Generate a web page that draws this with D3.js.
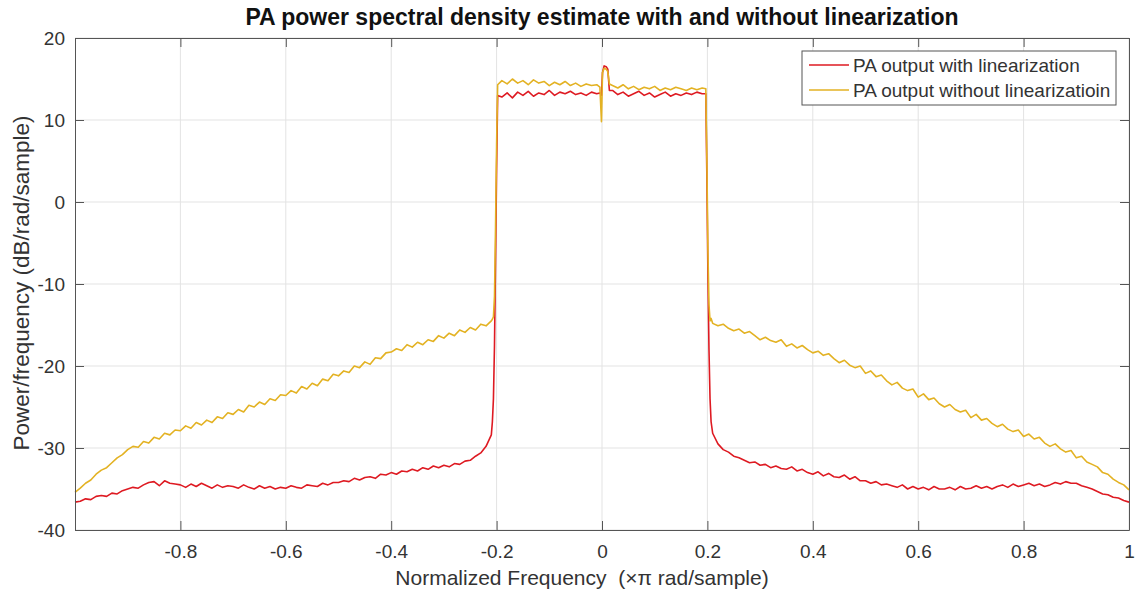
<!DOCTYPE html>
<html>
<head>
<meta charset="utf-8">
<script src="https://cdn.jsdelivr.net/npm/d3@7"></script>
<style>
	body { margin: 0; background: #fff; }
	text { font-family: "Liberation Sans", Arial, sans-serif; fill: #333; }
</style>
</head>
<body>
<div id="chart"></div>
<script>
// Axis ticks
var xTicks = [-0.8, -0.6, -0.4, -0.2, 0, 0.2, 0.4, 0.6, 0.8, 1];
var yTicks = [-40, -30, -20, -10, 0, 10, 20];
var seriesNames = ["PA output with linearization", "PA output without linearizatioin"];

// Sample positions (normalized frequency, x pi rad/sample)
var freqLeft = d3.range(80).map(function(i) { return +(-1 + i * 0.01).toFixed(2); });
var freqLeftEdge = [-0.208, -0.206, -0.204, -0.202, -0.200, -0.198];
var freqPassLeft = d3.range(19).map(function(i) { return +(-0.19 + i * 0.01).toFixed(2); });
var freqSpike = [-0.004, -0.001, 0.001, 0.004, 0.008, 0.011, 0.014];
var freqPassRight = d3.range(18).map(function(i) { return +(0.02 + i * 0.01).toFixed(2); });
var freqRightEdge = [0.197, 0.199, 0.201, 0.203, 0.205, 0.207];
var freqRight = d3.range(80).map(function(i) { return +(0.21 + i * 0.01).toFixed(2); });

// PA output without linearization (dB/rad/sample)
var noLinLeft = [-35.4,-34.9,-34.3,-33.9,-33.2,-32.7,-32.4,-31.8,-31.2,-30.8,
	-30.2,-29.8,-29.9,-29.2,-29.4,-28.7,-28.9,-28.2,-28.4,-27.8,
	-27.9,-27.3,-27.6,-26.9,-27.2,-26.6,-26.9,-26.2,-26.4,-25.7,
	-25.9,-25.3,-25.6,-24.8,-25.0,-24.4,-24.7,-24.0,-24.2,-23.5,
	-23.6,-23.0,-23.3,-22.5,-22.8,-22.1,-22.4,-21.6,-21.8,-21.0,
	-21.2,-20.6,-20.8,-20.0,-20.2,-19.5,-19.8,-19.0,-19.1,-18.4,
	-18.3,-17.9,-18.1,-17.4,-17.7,-17.1,-17.4,-16.8,-17.0,-16.3,
	-16.6,-16.0,-16.3,-15.6,-15.9,-15.3,-15.6,-14.9,-15.1,-14.5];
var noLinLeftEdge = [-14.3, -14.0, -11.5, -3, 7, 14.3];
var noLinPassLeft = [14.8,14.4,15.0,14.5,14.8,14.3,14.9,14.5,14.7,14.2,14.6,14.3,14.7,14.2,14.5,14.1,14.4,14.2,14.3];
var noLinSpike = [14.0, 9.8, 15.8, 16.3, 16.2, 15.9, 14.4];
var noLinPassRight = [14.2,13.9,14.3,13.8,14.1,13.7,14.0,13.8,14.1,13.6,13.9,13.7,14.0,13.8,13.6,13.9,13.7,13.9];
var noLinRightEdge = [13.8, 5, -6, -12.5, -14.5, -14.2];
var noLinRight = [-14.8,-15.1,-14.9,-15.4,-15.7,-15.5,-16.0,-15.8,-16.3,-16.8,
	-16.5,-16.9,-17.1,-16.8,-17.6,-17.3,-17.8,-17.5,-18.0,-18.4,
	-18.2,-18.7,-18.5,-19.1,-19.6,-19.3,-19.9,-20.2,-20.0,-20.9,
	-20.6,-21.3,-21.1,-21.8,-22.3,-22.0,-22.7,-23.0,-22.8,-23.8,
	-23.4,-24.1,-23.9,-24.6,-25.0,-24.7,-25.3,-25.6,-25.4,-26.3,
	-25.9,-26.6,-26.4,-27.0,-27.4,-27.1,-27.7,-28.0,-27.8,-28.6,
	-28.3,-28.9,-28.7,-29.4,-29.8,-29.5,-30.1,-30.5,-30.3,-31.2,
	-31.0,-31.7,-32.0,-32.3,-33.0,-33.2,-33.8,-34.2,-34.5,-35.1];

// PA output with linearization (dB/rad/sample)
var linLeft = [-36.6,-36.5,-36.2,-36.3,-35.9,-35.8,-35.9,-35.5,-35.6,-35.2,
	-35.0,-34.8,-34.9,-34.5,-34.2,-34.1,-34.6,-34.0,-34.3,-34.4,
	-34.5,-34.8,-34.4,-34.7,-34.3,-34.6,-34.9,-34.5,-34.8,-34.6,
	-34.7,-34.9,-34.5,-34.8,-35.0,-34.6,-34.9,-34.7,-35.0,-34.8,
	-34.9,-34.6,-34.8,-34.9,-34.5,-34.6,-34.7,-34.3,-34.5,-34.2,
	-34.2,-34.0,-34.1,-33.7,-33.9,-33.6,-33.5,-33.7,-33.2,-33.3,
	-33.0,-33.2,-32.8,-32.9,-32.6,-32.8,-32.4,-32.6,-32.2,-32.4,
	-32.1,-32.3,-31.9,-32.0,-31.6,-31.5,-31.0,-30.6,-29.8,-28.4];
var linLeftEdge = [-26.8, -24.0, -17.5, -7, 4, 13.0];
var linPassLeft = [12.8,13.3,12.7,13.4,13.0,13.5,12.9,13.3,13.1,13.6,13.0,13.4,13.2,13.5,13.1,13.3,13.0,13.4,13.2];
var linSpike = [13.3, 13.0, 15.8, 16.6, 16.5, 16.2, 13.6];
var linPassRight = [13.6,13.1,13.4,12.9,13.2,13.5,13.0,13.3,12.8,13.1,13.4,12.9,13.2,13.0,13.3,13.1,13.4,13.2];
var linRightEdge = [13.2, 3, -9, -18, -24, -26.8];
var linRight = [-28.2,-29.5,-30.2,-30.5,-31.0,-31.2,-31.5,-31.8,-31.7,-32.1,
	-32.0,-32.4,-32.2,-32.5,-32.6,-32.3,-32.8,-32.6,-33.0,-33.2,
	-32.9,-33.4,-33.1,-33.5,-33.6,-33.3,-33.8,-33.5,-34.0,-34.0,
	-34.3,-34.1,-34.5,-34.4,-34.6,-34.8,-34.5,-35.0,-34.7,-35.0,
	-34.8,-35.1,-34.7,-35.0,-35.0,-34.8,-35.1,-34.7,-35.0,-34.9,
	-34.6,-34.9,-34.7,-35.0,-34.7,-34.5,-34.8,-34.4,-34.7,-34.5,
	-34.3,-34.6,-34.4,-34.7,-34.5,-34.2,-34.4,-34.1,-34.3,-34.3,
	-34.6,-34.8,-35.0,-35.3,-35.6,-35.7,-36.0,-36.1,-36.4,-36.6];

var freq = [].concat(freqLeft, freqLeftEdge, freqPassLeft, freqSpike, freqPassRight, freqRightEdge, freqRight);
var noLin = [].concat(noLinLeft, noLinLeftEdge, noLinPassLeft, noLinSpike, noLinPassRight, noLinRightEdge, noLinRight);
var withLin = [].concat(linLeft, linLeftEdge, linPassLeft, linSpike, linPassRight, linRightEdge, linRight);

var colors = ["#de1a22", "#e3b223"];

// Layout
var W = 1139, H = 596;
var margin = {top: 38, right: 10, bottom: 66, left: 75};
var width = 1129 - margin.left;
var height = 530 - margin.top;

var svg = d3.select("#chart").append("svg")
	.attr("width", W)
	.attr("height", H);

var g = svg.append("g")
	.attr("transform", "translate(" + margin.left + "," + margin.top + ")");

var x = d3.scaleLinear().domain([-1, 1]).range([0, width]);
var y = d3.scaleLinear().domain([-40, 20]).range([height, 0]);

// Grid
g.append("g").selectAll("line")
	.data(xTicks)
	.enter().append("line")
	.attr("x1", function(d) { return x(d); })
	.attr("x2", function(d) { return x(d); })
	.attr("y1", 0).attr("y2", height)
	.attr("stroke", "#e3e3e3");

g.append("g").selectAll("line")
	.data(yTicks)
	.enter().append("line")
	.attr("y1", function(d) { return y(d); })
	.attr("y2", function(d) { return y(d); })
	.attr("x1", 0).attr("x2", width)
	.attr("stroke", "#e3e3e3");

// Series: red first, yellow drawn over it
var line = d3.line()
	.x(function(d, i) { return x(freq[i]); })
	.y(function(d) { return y(d); });

[withLin, noLin].forEach(function(vals, k) {
	g.append("path")
		.datum(vals)
		.attr("fill", "none")
		.attr("stroke", colors[k])
		.attr("stroke-width", 1.6)
		.attr("stroke-linejoin", "round")
		.attr("d", line);
});

// Axes (box with inward ticks on all sides)
var fmt = function(d) { return String(d); };

function styleAxis(sel) {
	sel.select(".domain").attr("stroke", "#555");
	sel.selectAll(".tick line").attr("stroke", "#555");
	sel.selectAll(".tick text")
		.attr("font-size", 19)
		.attr("font-family", "Liberation Sans, Arial, sans-serif")
		.attr("fill", "#333");
}

g.append("g")
	.attr("transform", "translate(0," + height + ")")
	.call(d3.axisBottom(x).tickValues(xTicks).tickSizeInner(-9).tickSizeOuter(0).tickPadding(15).tickFormat(fmt))
	.call(styleAxis);

g.append("g")
	.call(d3.axisTop(x).tickValues(xTicks).tickSizeInner(-9).tickSizeOuter(0).tickFormat(""))
	.call(styleAxis);

g.append("g")
	.call(d3.axisLeft(y).tickValues(yTicks).tickSizeInner(-9).tickSizeOuter(0).tickPadding(10).tickFormat(fmt))
	.call(styleAxis);

g.append("g")
	.attr("transform", "translate(" + width + ",0)")
	.call(d3.axisRight(y).tickValues(yTicks).tickSizeInner(-9).tickSizeOuter(0).tickFormat(""))
	.call(styleAxis);

// Title and labels
svg.append("text")
	.attr("x", 602).attr("y", 25)
	.attr("text-anchor", "middle")
	.attr("font-size", 23)
	.attr("font-weight", "bold")
	.style("fill", "#111")
	.text("PA power spectral density estimate with and without linearization");

svg.append("text")
	.attr("x", 582).attr("y", 585)
	.attr("text-anchor", "middle")
	.attr("font-size", 21)
	.text("Normalized Frequency\u00a0\u00a0(\u00d7\u03c0 rad/sample)");

svg.append("text")
	.attr("transform", "translate(29,283) rotate(-90)")
	.attr("text-anchor", "middle")
	.attr("font-size", 22.5)
	.text("Power/frequency (dB/rad/sample)");

// Legend
var legend = svg.append("g").attr("transform", "translate(802,51)");
legend.append("rect")
	.attr("width", 314).attr("height", 54)
	.attr("fill", "#fff")
	.attr("stroke", "#555");

seriesNames.forEach(function(name, i) {
	var cy = 14 + i * 25;
	legend.append("line")
		.attr("x1", 7).attr("x2", 47)
		.attr("y1", cy).attr("y2", cy)
		.attr("stroke", colors[i])
		.attr("stroke-width", 1.3);
	legend.append("text")
		.attr("x", 51).attr("y", cy + 7)
		.attr("font-size", 19)
		.text(name);
});
</script>
</body>
</html>
